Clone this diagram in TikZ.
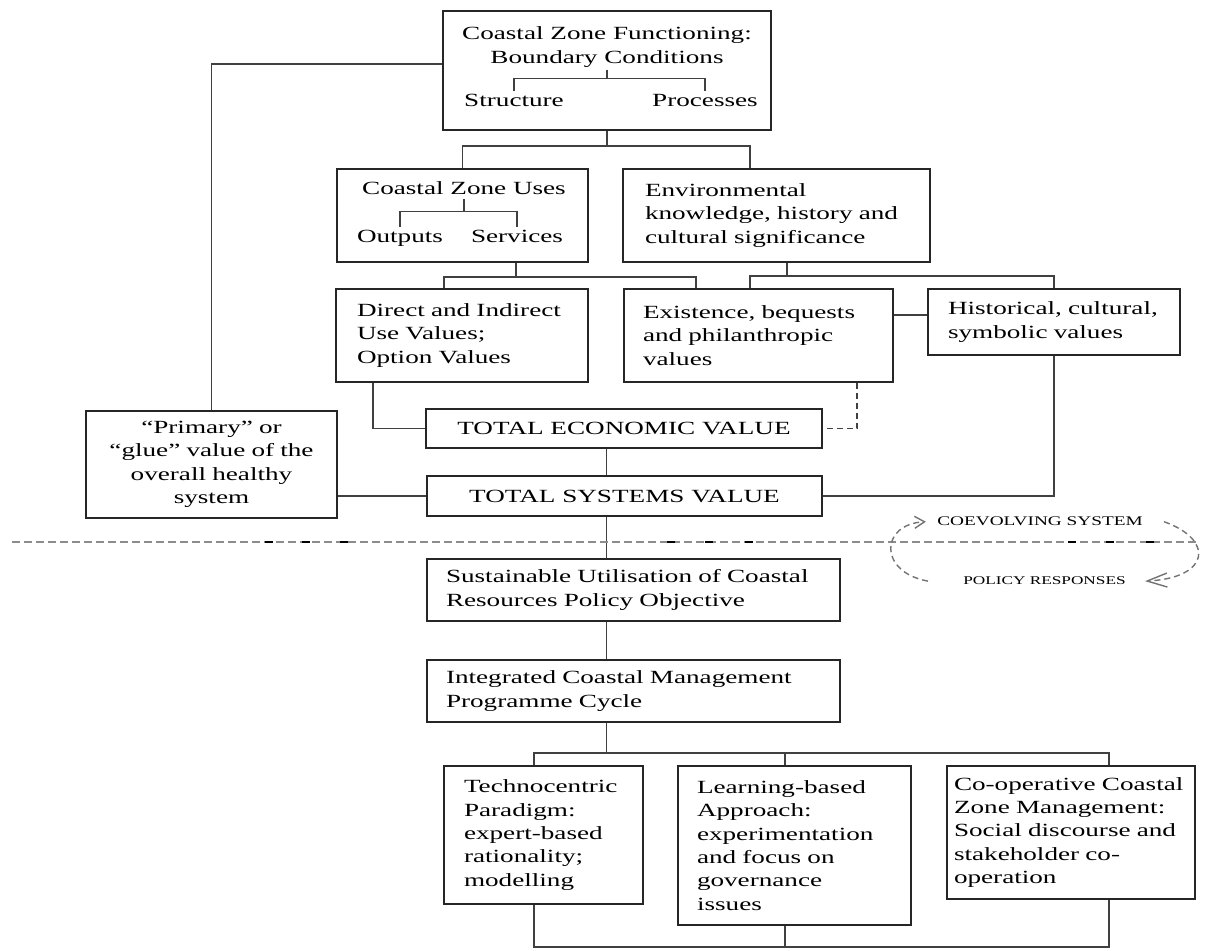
\documentclass[tikz,border=0pt]{standalone}
\usepackage{fontspec}
\setmainfont{Liberation Serif}[FakeStretch=1.46]
\usepackage{tikz}
\usetikzlibrary{arrows.meta}
\newcommand{\figfont}{\fontsize{9.3pt}{11.7pt}\selectfont}
\newcommand{\capfont}{\fontsize{5.9pt}{7pt}\selectfont}

\begin{document}
\begin{tikzpicture}[x=0.5pt, y=-0.5pt, every node/.style={font=\figfont},
    box/.style={draw=black!85, line width=0.8pt, rectangle, inner ysep=0pt},
    word/.style={inner sep=1.5pt, anchor=base},
    lnk/.style={draw=black!75, line width=0.85pt},
    sep/.style={draw=black!45, line width=0.8pt, dash pattern=on 4pt off 2pt},
    cyc/.style={draw=black!55, line width=0.7pt, dash pattern=on 3pt off 2pt}]
    \useasboundingbox (0,0) rectangle (1222,951);

    % upper half: values
    \node [box, minimum width=164pt, minimum height=59.5pt] (czf) at (607,70.5) {};
    \node [inner sep=1pt, align=center] (czfT) at (607,47) {Coastal Zone Functioning:\\Boundary Conditions};
    \node [word] (struc) at (514,107) {Structure};
    \node [word] (proc) at (705,107) {Processes};

    \node [box, minimum width=125.5pt, minimum height=46.5pt] (uses) at (462.5,215.5) {};
    \node [word] (usesT) at (464,195) {Coastal Zone Uses};
    \node [word] (outp) at (400,243) {Outputs};
    \node [word] (serv) at (517,243) {Services};

    \node [box, minimum height=46.5pt, text width=131.5pt, inner xsep=11pt, align=left] (env) at (776.5,215.5) {
        Environmental\\knowledge, history and\\cultural significance
    };

    \node [box, minimum height=46.5pt, text width=105pt, inner xsep=10.5pt, align=left] (direct) at (462,335.5) {
        Direct and Indirect\\Use Values;\\Option Values
    };
    \node [box, minimum height=46.5pt, text width=115.5pt, inner xsep=9.5pt, align=left] (exist) at (758.5,335.5) {
        Existence, bequests\\and philanthropic\\values
    };
    \node [box, minimum height=33pt, text width=106pt, inner xsep=10pt, align=left] (hist) at (1054,322) {
        Historical, cultural,\\symbolic values
    };

    \node [box, minimum width=198pt, minimum height=19.5pt] (tev) at (624,428.5) {TOTAL ECONOMIC VALUE};
    \node [box, minimum width=197.5pt, minimum height=20pt] (tsv) at (624.5,496) {TOTAL SYSTEMS VALUE};
    \node [box, minimum height=53.5pt, text width=115pt, inner xsep=5.25pt, align=center] (glue) at (211.5,464.5) {
        “Primary” or\\“glue” value of the\\overall healthy\\system
    };

    % lower half: policy
    \node [box, minimum height=31pt, text width=187.5pt, inner xsep=9.5pt, align=left] (sust) at (633.5,590) {
        Sustainable Utilisation of Coastal\\Resources Policy Objective
    };
    \node [box, minimum height=31pt, text width=187.5pt, inner xsep=9.5pt, align=left] (integ) at (633.5,691) {
        Integrated Coastal Management\\Programme Cycle
    };
    \node [box, minimum height=69pt, text width=79.5pt, inner xsep=10pt, align=left] (techno) at (543.5,835) {
        Technocentric\\Paradigm:\\expert-based\\rationality;\\modelling
    };
    \node [box, minimum height=79.5pt, text width=97.5pt, inner xsep=9.5pt, align=left] (learn) at (794.5,845.5) {
        Learning-based\\Approach:\\experimentation\\and focus on\\governance\\issues
    };
    \node [box, minimum height=66.5pt, text width=117pt, inner xsep=3.5pt, align=left] (coop) at (1071,832.5) {
        Co-operative Coastal\\Zone Management:\\Social discourse and\\stakeholder co-\\operation
    };

    \node [word, font=\fontsize{6.6pt}{8pt}\selectfont] (coev) at (1040,526) {COEVOLVING SYSTEM};
    \node [word, font=\capfont] (policy) at (1044.5,585) {POLICY RESPONSES};

    \coordinate (spine) at (606.5,0);
    \coordinate (lgA) at (534,753);
    \coordinate (lgB) at (785,753);
    \coordinate (lgC) at (1109,753);
    \coordinate (floor) at (0,947);

    % brackets inside boxes
    \draw [lnk] (czfT.south) -- ++(0,9) coordinate (czfB);
    \draw [lnk] (struc.north) |- (czfB) -| (proc.north);
    \draw [lnk] (usesT.south) -- ++(0,13) coordinate (usesB);
    \draw [lnk] (outp.north) |- (usesB) -| (serv.north);

    % connectors
    \draw [lnk] ([yshift=3.25pt]czf.west) -| (glue.north);
    \draw [lnk] (czf.south) -- ++(0,15) coordinate (s1);
    \draw [lnk] (uses.north) |- (s1) -| ([xshift=-13.25pt]env.north);
    \draw [lnk] ([xshift=26.75pt]uses.south) -- ++(0,14) coordinate (s2);
    \draw [lnk] ([xshift=-9pt]direct.north) |- (s2) -| ([xshift=-31.25pt]exist.north);
    \draw [lnk] ([xshift=5.25pt]env.south) -- ++(0,13) coordinate (s3);
    \draw [lnk] ([xshift=-4.25pt]exist.north) |- (s3) -| (hist.north);
    \draw [lnk] ([yshift=3.5pt]hist.west) -- ([yshift=3.5pt]hist.west -| exist.east);
    \draw [lnk] ([xshift=-44.5pt]direct.south) |- (tev.west);
    \draw [lnk, dash pattern=on 3pt off 2pt] ([xshift=49.25pt]exist.south) |- (tev.east);
    \draw [lnk] (tev.south -| spine) -- (tsv.north -| spine);
    \draw [lnk] (hist.south) |- (tsv.east);
    \draw [lnk] (tsv.west) -- (tsv.west -| glue.east);
    \draw [lnk] (tsv.south -| spine) -- (sust.north -| spine);
    \draw [lnk] (sust.south -| spine) -- (integ.north -| spine);
    \draw [lnk] (integ.south -| spine) -- (spine |- lgA);
    \draw [lnk] (lgA |- techno.north) -- (lgA) -- (lgC) -- (lgC |- coop.north);
    \draw [lnk] (lgB) -- (lgB |- learn.north);
    \draw [lnk] (lgA |- techno.south) -- (lgA |- floor) -- (lgC |- floor) -- (lgC |- coop.south);
    \draw [lnk] (lgB |- learn.south) -- (lgB |- floor);

    % dividing line and the policy cycle
    \draw [sep] (12,542) -- (1198,542);
    \foreach \x in {269,306,344,671,709,749,1072,1110,1150}
        \draw [line width=1.3pt] (\x-4,542) -- (\x+4,542);
    \draw [cyc, -{Straight Barb[length=5pt,width=6pt]}] ([xshift=-16pt]policy.west) .. controls (878,572) and (880,524) .. ([xshift=-4pt]coev.west);
    \draw [cyc, -{Straight Barb[length=10pt,width=7pt]}] ([xshift=9pt]coev.east) .. controls (1215,540) and (1210,578) .. ([xshift=8pt]policy.east);
\end{tikzpicture}
\end{document}
